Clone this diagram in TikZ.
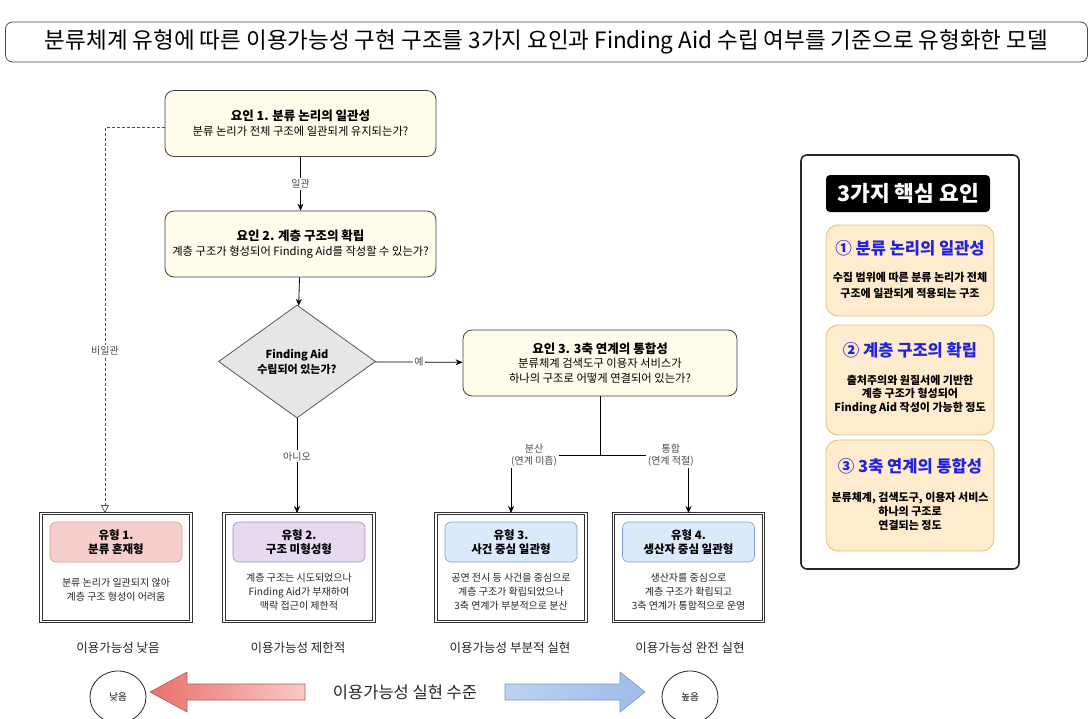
\documentclass[tikz,border=0pt]{standalone}
\usepackage{fontspec}
\setmainfont{Noto Sans CJK KR}
\usetikzlibrary{shapes.geometric,arrows.meta,shadings}
\definecolor{cream}{HTML}{FFFCEC}
\definecolor{dmfill}{HTML}{E6E6E6}
\definecolor{pinkf}{HTML}{F8CECC}\definecolor{pinkd}{HTML}{D79B97}
\definecolor{lavf}{HTML}{E6DAEE}\definecolor{lavd}{HTML}{A890BD}
\definecolor{bluef}{HTML}{DCE9FC}\definecolor{blued}{HTML}{7E9FCF}
\definecolor{peach}{HTML}{FFEBCD}\definecolor{gold}{HTML}{E2C277}
\definecolor{titleblue}{HTML}{2222DD}
\definecolor{redA}{HTML}{E8706B}\definecolor{redB}{HTML}{F9C9C6}
\definecolor{bluA}{HTML}{BCD2F2}\definecolor{bluB}{HTML}{9DBCEA}
\newcommand{\fsz}[2]{\fontsize{#1}{#2}\selectfont}
\newcommand{\ftl}[1]{{\fontsize{12.5}{15}\selectfont\bfseries #1}}
\tikzset{
  factor/.style={draw=black!75, fill=cream, rounded corners=9pt, line width=0.8pt,
    minimum width=271pt, minimum height=66pt, inner sep=0pt, align=center,
    font=\fsz{11.3}{15}},
  typebox/.style={draw=black!80, double, double distance=1.8pt, line width=0.9pt,
    minimum width=150pt, minimum height=108pt, inner sep=0pt},
  typehead/.style={rounded corners=6pt, line width=0.6pt, minimum width=132pt,
    minimum height=40pt, inner sep=0pt, align=center, font=\fsz{11.5}{14.5}\bfseries},
  typedesc/.style={align=center, inner sep=0pt, font=\fsz{10}{14}, text=black!85},
  arr/.style={draw=black, line width=0.8pt, -{Stealth[length=7pt,width=6pt]}},
  dasharr/.style={draw=black!70, line width=0.7pt, dashed, dash pattern=on 3pt off 2pt,
    -{Triangle[open,length=8pt,width=8pt]}},
  lbl/.style={fill=white, inner sep=1.5pt, font=\fsz{10}{12.5}, text=black!70, align=center},
  pbox/.style={draw=gold, fill=peach, rounded corners=12pt, line width=0.8pt,
    minimum width=168pt, inner sep=0pt},
  ptitle/.style={font=\fsz{16.5}{19}\bfseries, text=titleblue, inner sep=0pt},
  pbody/.style={font=\fsz{11}{15.5}\bfseries, align=center, inner sep=0pt},
  levlbl/.style={font=\fsz{12.5}{14}, text=black!85, inner sep=0pt},
  endell/.style={draw=black!85, line width=0.8pt, ellipse, minimum width=56pt,
    minimum height=52pt, inner sep=0pt, font=\fsz{9.5}{11}},
}
\begin{document}
\begin{tikzpicture}[x=1pt,y=-1pt]
\useasboundingbox (0,0) rectangle (1091,718);
\fill[white] (0,0) rectangle (1091,718);

% title
\node[draw=black!70, rounded corners=7pt, line width=0.8pt, minimum width=1082pt,
  minimum height=40pt, inner sep=0pt, font=\fsz{22.5}{26}] (title) at (546.5,42)
  {분류체계 유형에 따른 이용가능성 구현 구조를 3가지 요인과 Finding Aid 수립 여부를 기준으로 유형화한 모델};

% factors
\node[factor] (f1) at (300.5,123.5)
  {\ftl{요인 1. 분류 논리의 일관성}\\분류 논리가 전체 구조에 일관되게 유지되는가?};
\node[factor] (f2) at (300.5,244)
  {\ftl{요인 2. 계층 구조의 확립}\\계층 구조가 형성되어 Finding Aid를 작성할 수 있는가?};
\node[diamond, draw=black!65, fill=dmfill, line width=0.8pt, minimum width=157pt,
  minimum height=113pt, inner sep=0pt, aspect=1.39, align=center,
  font=\fsz{11}{15}\bfseries] (dm) at (297,361.5) {Finding Aid\\수립되어 있는가?};
\node[factor, minimum width=274pt, font=\fsz{11.3}{14.5}] (f3) at (600,363)
  {\ftl{요인 3. 3축 연계의 통합성}\\분류체계 검색도구 이용자 서비스가\\하나의 구조로 어떻게 연결되어 있는가?};

% types
\node[typebox] (t1) at (116,567.5) {};
\node[typehead, draw=pinkd, fill=pinkf] (t1h) at (116,542) {유형 1.\\분류 혼재형};
\node[typedesc] (t1d) at (116,590) {분류 논리가 일관되지 않아\\계층 구조 형성이 어려움};
\node[typebox] (t2) at (299,567.5) {};
\node[typehead, draw=lavd, fill=lavf] (t2h) at (299,542) {유형 2.\\구조 미형성형};
\node[typedesc] (t2d) at (299,592) {계층 구조는 시도되었으나\\Finding Aid가 부재하여\\맥락 접근이 제한적};
\node[typebox] (t3) at (511,567.5) {};
\node[typehead, draw=blued, fill=bluef] (t3h) at (511,542) {유형 3.\\사건 중심 일관형};
\node[typedesc] (t3d) at (511,592) {공연 전시 등 사건을 중심으로\\계층 구조가 확립되었으나\\3축 연계가 부분적으로 분산};
\node[typebox] (t4) at (688.5,567.5) {};
\node[typehead, draw=blued, fill=bluef] (t4h) at (688.5,542) {유형 4.\\생산자 중심 일관형};
\node[typedesc] (t4d) at (688.5,592) {생산자를 중심으로\\계층 구조가 확립되고\\3축 연계가 통합적으로 운영};

% connectors
\draw[arr] (f1) -- node[lbl]{일관} (f2);
\draw[arr] (f2) -- (dm);
\draw[arr] (dm) -- node[lbl]{예} (f3);
\draw[arr] (dm.south) -- node[lbl, pos=0.4]{아니오} (dm.south |- t2.north);
\draw[dasharr] ([yshift=-4pt]f1.west) -| node[lbl, pos=0.79]{비일관} ([xshift=-11pt]t1.north);
\draw[line width=0.8pt] (f3.south) -- ++(0,59) coordinate (br);
\draw[arr] (br) -| node[lbl, pos=0.37]{분산\\(연계 미흡)} (t3.north);
\draw[arr] (br) -| node[lbl, pos=0.4]{통합\\(연계 적절)} (t4.north);

% right panel
\draw[draw=black!85, line width=1.6pt, rounded corners=6pt] (801,155) rectangle (1019,569);
\node[fill=black, rounded corners=4pt, minimum width=164pt, minimum height=37pt,
  inner sep=0pt, text=white, font=\fsz{21.5}{24}\bfseries] (ph) at (908,193.5) {3가지 핵심 요인};
\node[pbox, minimum height=91pt] (p1) at (910,270.5) {};
\node[ptitle] (p1t) at (910,248) {① 분류 논리의 일관성};
\node[pbody] (p1b) at (910,285.5) {수집 범위에 따른 분류 논리가 전체\\구조에 일관되게 적용되는 구조};
\node[pbox, minimum height=110pt] (p2) at (910,380) {};
\node[ptitle] (p2t) at (910,350) {② 계층 구조의 확립};
\node[pbody, font=\fsz{11}{13.5}\bfseries] (p2b) at (910,394.5) {출처주의와 원질서에 기반한\\계층 구조가 형성되어\\Finding Aid 작성이 가능한 정도};
\node[pbox, minimum height=111pt] (p3) at (910,495.5) {};
\node[ptitle] (p3t) at (910,466.5) {③ 3축 연계의 통합성};
\node[pbody, font=\fsz{11}{14}\bfseries] (p3b) at (910,511) {분류체계, 검색도구, 이용자 서비스\\하나의 구조로\\연결되는 정도};

% bottom scale
\node[levlbl] (l1) at (118,648) {이용가능성 낮음};
\node[levlbl] (l2) at (298,648) {이용가능성 제한적};
\node[levlbl] (l3) at (510,648) {이용가능성 부분적 실현};
\node[levlbl] (l4) at (690,648) {이용가능성 완전 실현};
\node[endell] (lo) at (118,697) {낮음};
\node[endell] (hi) at (690,697) {높음};
\node[font=\fsz{16.5}{19}, text=black!85, inner sep=0pt] (scale) at (405,692) {이용가능성 실현 수준};
\path[draw=redA!80!black, line width=0.6pt, left color=redA, right color=redB]
  (150,692) -- (187,672) -- (187,684) -- (305,684) -- (305,700) -- (187,700) -- (187,712) -- cycle;
\path[draw=bluB!80!black, line width=0.6pt, left color=bluA, right color=bluB]
  (645,692) -- (620,672) -- (620,684) -- (505,684) -- (505,700) -- (620,700) -- (620,712) -- cycle;
\end{tikzpicture}
\end{document}
